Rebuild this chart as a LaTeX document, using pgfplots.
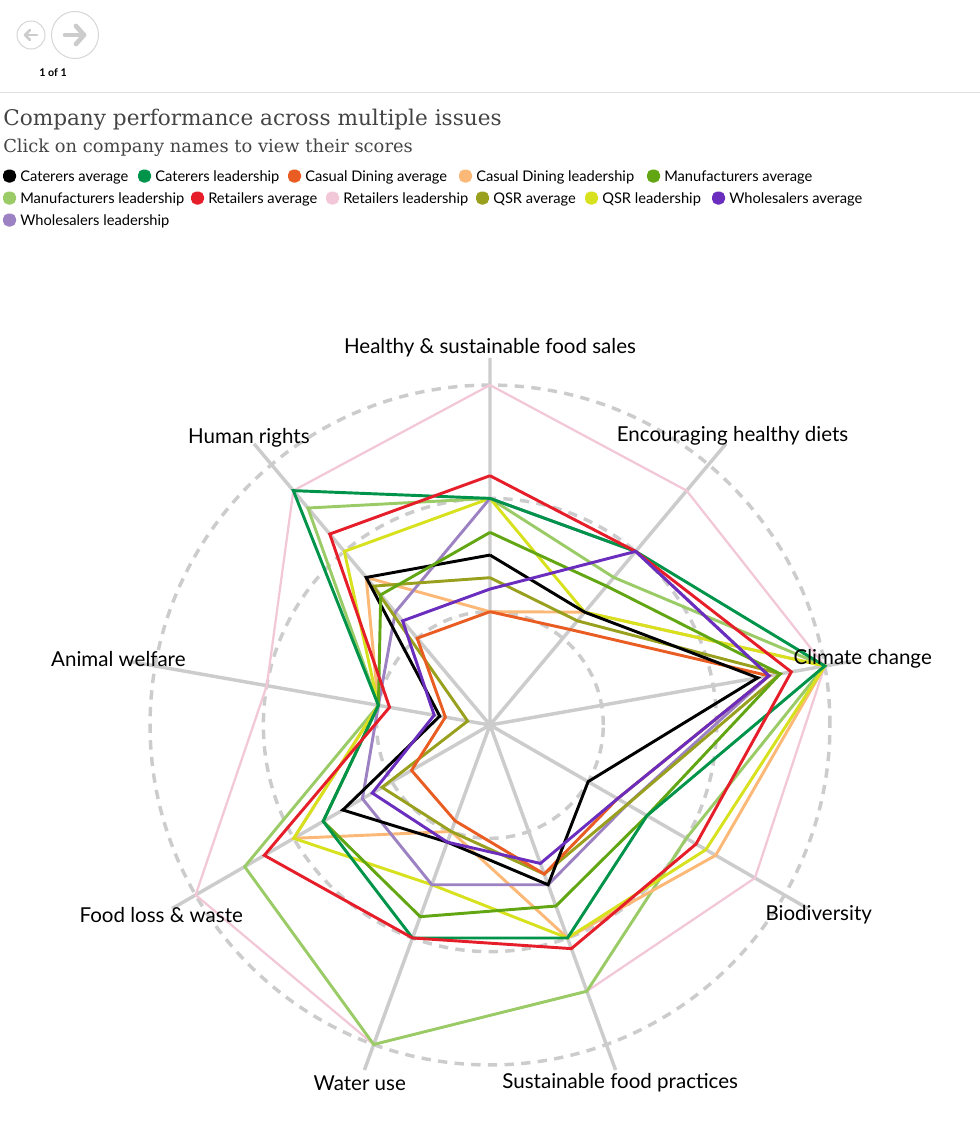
\documentclass[border=0pt]{standalone}
\usepackage{pgfplots}
\pgfplotsset{compat=1.18}
\usepackage{pgfplotstable}
\usepgfplotslibrary{polar}
\usepackage{fontspec}
\setmainfont{Lato}
\newfontfamily\titlefont{DejaVu Serif}
\definecolor{cBlack}{HTML}{000000}
\definecolor{cDkGreen}{HTML}{00944A}
\definecolor{cOrange}{HTML}{E95D22}
\definecolor{cLtOrange}{HTML}{FBB877}
\definecolor{cGreen}{HTML}{62A613}
\definecolor{cLtGreen}{HTML}{9BCB66}
\definecolor{cRed}{HTML}{E51E2A}
\definecolor{cPink}{HTML}{F2C8D8}
\definecolor{cOlive}{HTML}{99A01E}
\definecolor{cYellow}{HTML}{D7E11E}
\definecolor{cPurple}{HTML}{6A2DBD}
\definecolor{cLavender}{HTML}{9D82C3}
\definecolor{gridc}{HTML}{CCCCCC}
\definecolor{titlec}{HTML}{444444}

\pgfplotstableread{
ang  catavg catlead cdavg cdlead manavg manlead retavg retlead qsravg qsrlead whoavg wholead
90   1.5    2.0     1.0   1.0    1.7    2.0     2.2    3.0     1.3    2.0     1.2    2.0
50   1.3    2.0     1.1   1.3    1.6    1.7     2.0    2.7     1.2    1.3     2.0    2.0
10   2.4    3.0     2.5   3.0    2.6    3.0     2.7    3.0     2.6    3.0     2.5    2.5
-30  1.0    1.6     1.3   2.3    1.6    2.0     2.1    2.7     1.4    2.2     1.3    1.4
-70  1.5    2.0     1.4   2.0    1.7    2.5     2.1    2.5     1.4    2.0     1.3    1.5
-110 1.1    2.0     0.9   1.0    1.8    3.0     2.0    3.0     1.0    1.5     1.1    1.5
-150 1.5    1.7     0.8   2.0    1.7    2.5     2.3    3.0     1.1    2.0     1.2    1.3
-190 0.45   1.0     0.4   1.0    1.0    1.0     0.9    2.0     0.2    1.0     0.5    1.0
-230 1.7    2.7     1.0   1.7    1.5    2.5     2.2    2.7     1.6    2.0     1.2    1.3
-270 1.5    2.0     1.0   1.0    1.7    2.0     2.2    3.0     1.3    2.0     1.2    2.0
}\data

\begin{document}
\begin{tikzpicture}[x=0.75pt,y=-0.75pt]
\useasboundingbox (0,0) rectangle (980,1135);
% navigation
\draw[gridc!80, line width=0.75pt] (31,35) circle (14);
\draw[gridc, line width=2pt, line cap=round] (25,35) -- (37,35);
\draw[gridc, line width=2pt, line cap=round, line join=round] (30,30) -- (25,35) -- (30,40);
\draw[gridc!80, line width=0.75pt] (75,35) circle (23.5);
\draw[gridc, line width=3.5pt, line cap=round] (65,35) -- (84,35);
\draw[gridc, line width=3.5pt, line cap=round, line join=round] (76,26) -- (84,35) -- (76,44);
\node[font=\bfseries\fontsize{8}{9}\selectfont] at (53,73) {1 of 1};
\draw[gridc!60, line width=0.75pt] (0,92.5) -- (980,92.5);
% titles
\node[anchor=base west, inner sep=0pt, text=titlec, font=\titlefont\fontsize{16.2}{18}\selectfont] at (3,125) {Company performance across multiple issues};
\node[anchor=base west, inner sep=0pt, text=titlec, font=\titlefont\fontsize{13.4}{16}\selectfont] at (3,152) {Click on company names to view their scores};
% legend
\def\legitem#1#2#3#4{\fill[#3, rounded corners=4pt] (#1,#2-6.5) rectangle ++(13,13);
  \node[anchor=base west, inner sep=0pt, font=\fontsize{11}{13}\selectfont] at (#1+17,#2+5) {#4};}
\legitem{3}{176}{cBlack}{Caterers average}
\legitem{138}{176}{cDkGreen}{Caterers leadership}
\legitem{288}{176}{cOrange}{Casual Dining average}
\legitem{459}{176}{cLtOrange}{Casual Dining leadership}
\legitem{647}{176}{cGreen}{Manufacturers average}
\legitem{3}{198}{cLtGreen}{Manufacturers leadership}
\legitem{191}{198}{cRed}{Retailers average}
\legitem{326}{198}{cPink}{Retailers leadership}
\legitem{476}{198}{cOlive}{QSR average}
\legitem{585}{198}{cYellow}{QSR leadership}
\legitem{712}{198}{cPurple}{Wholesalers average}
\legitem{3}{220}{cLavender}{Wholesalers leadership}

\begin{polaraxis}[
  at={(367.5pt,-543.75pt)}, anchor=center,
  scale only axis, width=550.7pt, height=550.7pt,
  ymin=0, ymax=3.24, xmin=0, xmax=360,
  xtick={10,50,90,130,170,210,250,290,330},
  ytick={1,2,3},
  xticklabels={}, yticklabels={},
  xmajorgrids, ymajorgrids,
  x grid style={gridc, line width=2.6pt},
  y grid style={gridc, line width=2.6pt, dash pattern=on 7pt off 5.5pt},
  axis line style={draw=none},
  major tick style={draw=none},
  clip=false,
  every axis plot/.append style={line width=2.2pt, line join=miter, mark=none},
]
\addplot[cPink, line width=1.7pt] table[x=ang,y=retlead] {\data};
\addplot[cLtGreen] table[x=ang,y=manlead] {\data};
\addplot[cLtOrange] table[x=ang,y=cdlead] {\data};
\addplot[cYellow] table[x=ang,y=qsrlead] {\data};
\addplot[cLavender] table[x=ang,y=wholead] {\data};
\addplot[cOlive] table[x=ang,y=qsravg] {\data};
\addplot[cOrange] table[x=ang,y=cdavg] {\data};
\addplot[cBlack] table[x=ang,y=catavg] {\data};
\addplot[cGreen] table[x=ang,y=manavg] {\data};
\addplot[cDkGreen] table[x=ang,y=catlead] {\data};
\addplot[cRed] table[x=ang,y=retavg] {\data};
\addplot[cPurple] table[x=ang,y=whoavg] {\data};
\tikzset{lab/.style={font=\fontsize{15.4}{17}\selectfont, inner sep=0pt}}
\node[lab] at (axis cs:90,3.33) {Healthy \& sustainable food sales};
\node[lab] at (axis cs:50,3.33) {Encouraging healthy diets};
\node[lab] at (axis cs:10,3.34) {Climate change};
\node[lab] at (axis cs:-30,3.35) {Biodiversity};
\node[lab] at (axis cs:-70,3.36) {Sustainable food practices};
\node[lab] at (axis cs:-110,3.36) {Water use};
\node[lab] at (axis cs:-150,3.35) {Food loss \& waste};
\node[lab] at (axis cs:170,3.33) {Animal welfare};
\node[lab] at (axis cs:130,3.31) {Human rights};
\end{polaraxis}
\end{tikzpicture}
\end{document}
